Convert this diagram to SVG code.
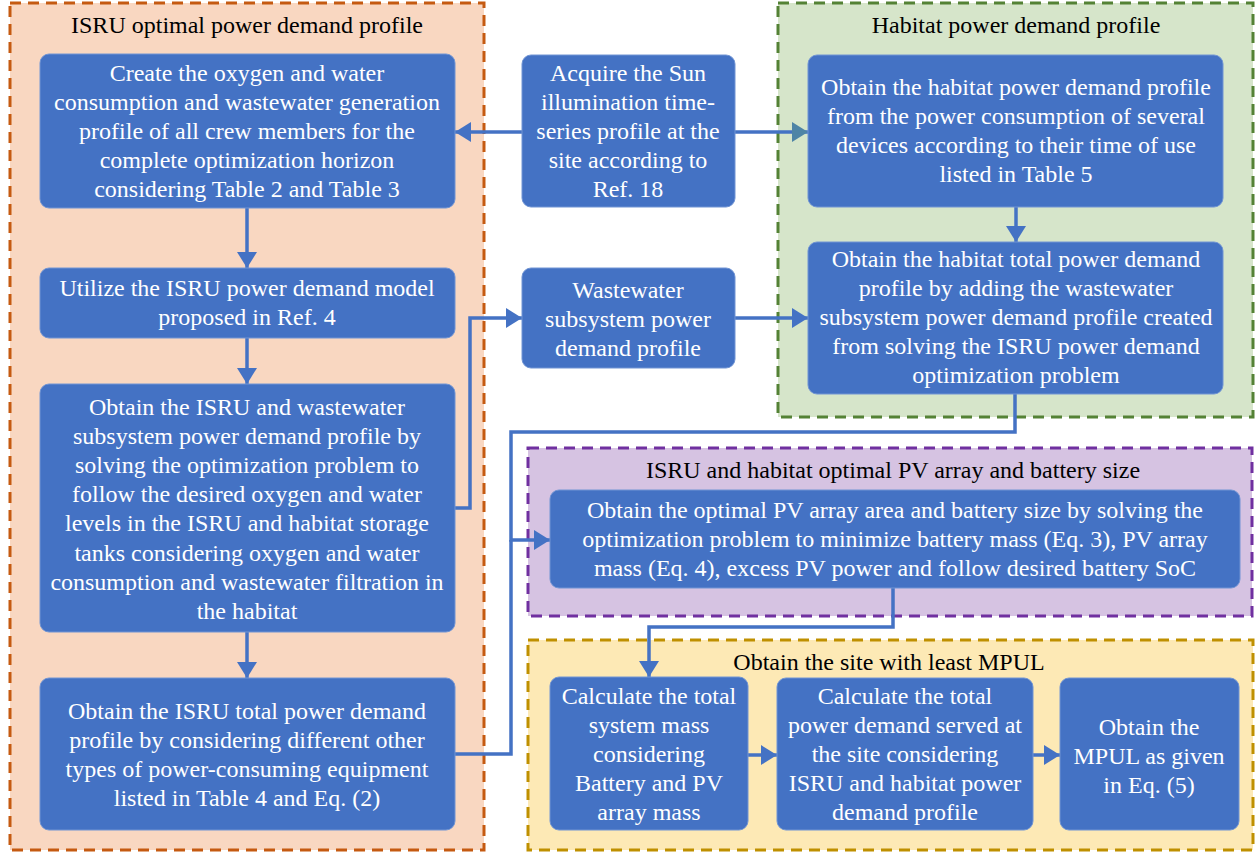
<svg xmlns="http://www.w3.org/2000/svg" width="1258" height="856" viewBox="0 0 1258 856">
<style>
.box{fill:#4472C4;stroke:#7094D4;stroke-width:1}
.t{font-family:'Liberation Serif','Times New Roman',serif;font-size:24px;fill:#ffffff;text-anchor:middle}
.title{font-family:'Liberation Serif','Times New Roman',serif;font-size:24px;fill:#000000;text-anchor:middle}
.cont{stroke-width:3;stroke-dasharray:11 7}
.con{fill:none;stroke:#4472C4;stroke-width:3.5}
</style>
<defs>
<marker id="ah" markerUnits="userSpaceOnUse" markerWidth="17" markerHeight="20" refX="16" refY="10" orient="auto">
<path d="M0,0 L16,10 L0,20 z" fill="#4472C4"/>
</marker>
<marker id="ah2" markerUnits="userSpaceOnUse" markerWidth="17" markerHeight="20" refX="16" refY="10" orient="auto">
<path d="M0,0 L16,10 L0,20 z" fill="#4E84A6"/>
</marker>
</defs>
<rect width="1258" height="856" fill="#ffffff"/>

<g id="isru-container">
<rect class="cont" x="10" y="3" width="474" height="847" fill="#F9D7C1" stroke="#C55A11"/>
<text class="title" x="247" y="33">ISRU optimal power demand profile</text>
</g>
<g id="habitat-container">
<rect class="cont" x="778" y="3" width="475" height="414" fill="#D6E5CA" stroke="#548235"/>
<text class="title" x="1016" y="33">Habitat power demand profile</text>
</g>
<g id="pv-container">
<rect class="cont" x="528" y="448" width="724" height="168" fill="#D6C3E2" stroke="#7030A0"/>
<text class="title" x="893" y="478">ISRU and habitat optimal PV array and battery size</text>
</g>
<g id="mpul-container">
<rect class="cont" x="528" y="640" width="725" height="210" fill="#FDE9B5" stroke="#BF9000"/>
<text class="title" x="889" y="670">Obtain the site with least MPUL</text>
</g>

<g id="connectors">
<path class="con" d="M247,208 V268" marker-end="url(#ah)"/>
<path class="con" d="M247,338 V384" marker-end="url(#ah)"/>
<path class="con" d="M247,632 V678" marker-end="url(#ah)"/>
<path class="con" d="M522,132 H455" marker-end="url(#ah)"/>
<path class="con" d="M735,132 H808" marker-end="url(#ah2)"/>
<path class="con" d="M1016,207 V242" marker-end="url(#ah)"/>
<path class="con" d="M455,508 H470 V318 H522" marker-end="url(#ah)"/>
<path class="con" d="M735,318 H808" marker-end="url(#ah)"/>
<path class="con" d="M1015,394 V432 H511 V540 H550" marker-end="url(#ah)"/>
<path class="con" d="M455,754 H511 V540"/>
<path class="con" d="M893,588 V627 H649 V677" marker-end="url(#ah)"/>
<path class="con" d="M748,755 H777" marker-end="url(#ah)"/>
<path class="con" d="M1033,755 H1060" marker-end="url(#ah)"/>
</g>

<g id="n-create">
<rect class="box" x="40" y="54" width="415" height="154" rx="9"/>
<text class="t" x="247" y="81">Create the oxygen and water</text>
<text class="t" x="247" y="110">consumption and wastewater generation</text>
<text class="t" x="247" y="139">profile of all crew members for the</text>
<text class="t" x="247" y="168">complete optimization horizon</text>
<text class="t" x="247" y="197">considering Table 2 and Table 3</text>
</g>
<g id="n-utilize">
<rect class="box" x="40" y="268" width="415" height="70" rx="9"/>
<text class="t" x="247" y="296">Utilize the ISRU power demand model</text>
<text class="t" x="247" y="325">proposed in Ref. 4</text>
</g>
<g id="n-obtain-isru-ww">
<rect class="box" x="40" y="384" width="415" height="248" rx="9"/>
<text class="t" x="247" y="415">Obtain the ISRU and wastewater</text>
<text class="t" x="247" y="444">subsystem power demand profile by</text>
<text class="t" x="247" y="473">solving the optimization problem to</text>
<text class="t" x="247" y="502">follow the desired oxygen and water</text>
<text class="t" x="247" y="531">levels in the ISRU and habitat storage</text>
<text class="t" x="247" y="561">tanks considering oxygen and water</text>
<text class="t" x="247" y="590">consumption and wastewater filtration in</text>
<text class="t" x="247" y="619">the habitat</text>
</g>
<g id="n-isru-total">
<rect class="box" x="40" y="678" width="415" height="152" rx="9"/>
<text class="t" x="247" y="719">Obtain the ISRU total power demand</text>
<text class="t" x="247" y="748">profile by considering different other</text>
<text class="t" x="247" y="777">types of power-consuming equipment</text>
<text class="t" x="247" y="806">listed in Table 4 and Eq. (2)</text>
</g>
<g id="n-sun">
<rect class="box" x="522" y="55" width="213" height="152" rx="9"/>
<text class="t" x="628" y="81">Acquire the Sun</text>
<text class="t" x="628" y="110">illumination time-</text>
<text class="t" x="628" y="139">series profile at the</text>
<text class="t" x="628" y="168">site according to</text>
<text class="t" x="628" y="197">Ref. 18</text>
</g>
<g id="n-wastewater">
<rect class="box" x="522" y="268" width="213" height="100" rx="9"/>
<text class="t" x="628" y="298">Wastewater</text>
<text class="t" x="628" y="327">subsystem power</text>
<text class="t" x="628" y="356">demand profile</text>
</g>
<g id="n-habitat">
<rect class="box" x="808" y="55" width="415" height="152" rx="9"/>
<text class="t" x="1016" y="95">Obtain the habitat power demand profile</text>
<text class="t" x="1016" y="124">from the power consumption of several</text>
<text class="t" x="1016" y="153">devices according to their time of use</text>
<text class="t" x="1016" y="182">listed in Table 5</text>
</g>
<g id="n-habitat-total">
<rect class="box" x="808" y="242" width="415" height="152" rx="9"/>
<text class="t" x="1016" y="267">Obtain the habitat total power demand</text>
<text class="t" x="1016" y="296">profile by adding the wastewater</text>
<text class="t" x="1016" y="325">subsystem power demand profile created</text>
<text class="t" x="1016" y="354">from solving the ISRU power demand</text>
<text class="t" x="1016" y="383">optimization problem</text>
</g>
<g id="n-pv">
<rect class="box" x="550" y="490" width="690" height="98" rx="9"/>
<text class="t" x="895" y="518">Obtain the optimal PV array area and battery size by solving the</text>
<text class="t" x="895" y="547">optimization problem to minimize battery mass (Eq. 3), PV array</text>
<text class="t" x="895" y="576">mass (Eq. 4), excess PV power and follow desired battery SoC</text>
</g>
<g id="n-mass">
<rect class="box" x="550" y="677" width="198" height="153" rx="9"/>
<text class="t" x="649" y="704">Calculate the total</text>
<text class="t" x="649" y="733">system mass</text>
<text class="t" x="649" y="762">considering</text>
<text class="t" x="649" y="791">Battery and PV</text>
<text class="t" x="649" y="820">array mass</text>
</g>
<g id="n-served">
<rect class="box" x="777" y="678" width="256" height="152" rx="9"/>
<text class="t" x="905" y="704">Calculate the total</text>
<text class="t" x="905" y="733">power demand served at</text>
<text class="t" x="905" y="762">the site considering</text>
<text class="t" x="905" y="791">ISRU and habitat power</text>
<text class="t" x="905" y="820">demand profile</text>
</g>
<g id="n-mpul">
<rect class="box" x="1060" y="678" width="179" height="152" rx="9"/>
<text class="t" x="1149" y="735">Obtain the</text>
<text class="t" x="1149" y="764">MPUL as given</text>
<text class="t" x="1149" y="793">in Eq. (5)</text>
</g>
</svg>
